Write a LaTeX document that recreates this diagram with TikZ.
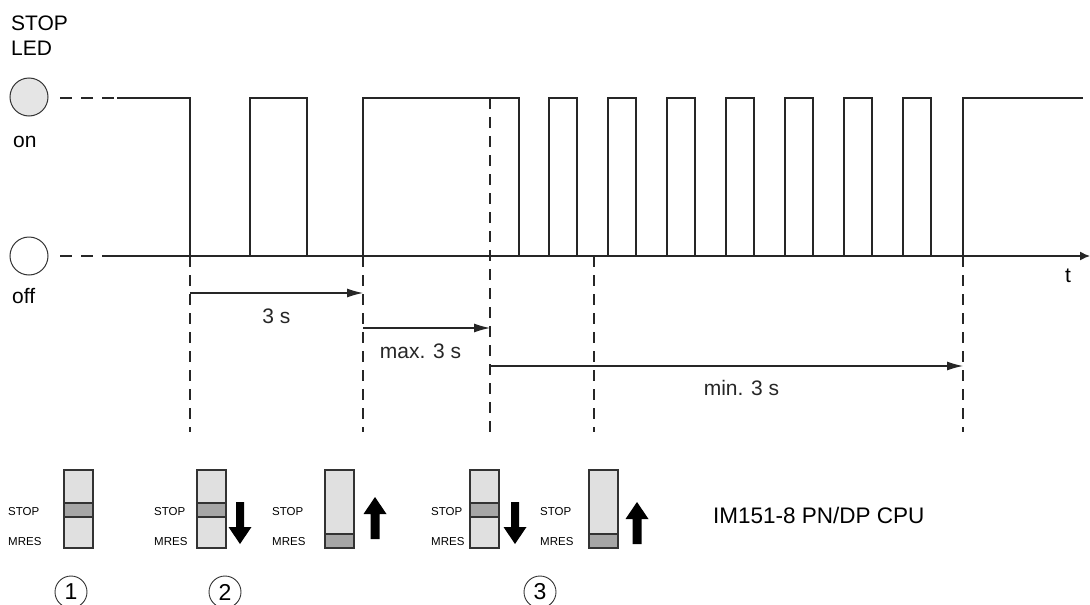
\documentclass[tikz,border=0pt]{standalone}
\usepackage{fontspec}
\setmainfont{Liberation Sans}
\usetikzlibrary{arrows.meta, positioning}

\begin{document}
\begin{tikzpicture}[x=1pt, y=-1pt,
  sig/.style={line width=1.4pt, black!85},
  guide/.style={line width=1.1pt, black!85, dash pattern=on 11pt off 8pt},
  lead/.style={line width=1.4pt, black!85, dash pattern=on 12pt off 9pt},
  span/.style={line width=1.1pt, black!85, -{Latex[length=16pt,width=9pt]}},
  lbl/.style={font=\fontsize{21}{21}\selectfont, inner sep=0pt},
  swtxt/.style={font=\fontsize{11.5}{11.5}\selectfont, inner sep=0pt, anchor=base west},
  swbox/.style={draw=black!80, fill=black!12, line width=1.1pt},
  swband/.style={draw=black!80, fill=black!35, line width=1.1pt},
  led/.style={circle, draw=black!80, line width=1pt, minimum size=38pt, inner sep=0pt},
  num/.style={circle, draw=black!80, line width=0.9pt, minimum size=32pt, inner sep=0pt,
              font=\fontsize{23}{23}\selectfont}]
  \useasboundingbox (0,0) rectangle (1090,605);
  % LED and levels
  \node[lbl, anchor=base west] (stoplbl) at (11,30) {STOP};
  \node[lbl, anchor=base west] (ledlbl) at (11,55) {LED};
  \node[led, fill=black!10] (ledon) at (29,97) {};
  \node[led, fill=white] (ledoff) at (29,256) {};
  \node[lbl, anchor=base west] (onlbl) at (13,147) {on};
  \node[lbl, anchor=base west] (offlbl) at (12,303) {off};
  \draw[lead] (60,98) -- (117,98);
  \draw[lead] (60,256) -- (102,256);
  % time axis
  \draw[sig, -{Latex[length=10pt,width=9pt]}] (102,256) -- (1090,256);
  \node[lbl, anchor=base west] (tlbl) at (1065,282) {t};
  % waveform
  \draw[sig] (117,98) -- (190,98) -- (190,256);
  \draw[sig] (250,256) |- (307,98) -- (307,256);
  \draw[sig] (363,256) |- (519,98) -- (519,256);
  \foreach \k in {0,...,6}
    \draw[sig] (549+59*\k,256) |- (577+59*\k,98) -- (577+59*\k,256);
  \draw[sig] (963,256) |- (1083,98);
  % time marks
  \coordinate (t0) at (190,256);
  \coordinate (t1) at (363,256);
  \coordinate (t2) at (490,98);
  \coordinate (t3) at (594,256);
  \coordinate (t4) at (963,256);
  \coordinate (bot) at (0,432);
  \foreach \m in {t0,t1,t2,t3,t4}
    \draw[guide] (\m) -- (\m |- bot);
  \coordinate (y1) at (0,293);
  \coordinate (y2) at (0,328);
  \coordinate (y3) at (0,366);
  \draw[span] (t0 |- y1) -- node[lbl, anchor=base, yshift=-30pt] (d1) {3 s} (t1 |- y1);
  \draw[span] (t1 |- y2) -- node[lbl, anchor=base, yshift=-30pt, xshift=-6pt] (d2) {max. 3 s} (t2 |- y2);
  \draw[span] (t2 |- y3) -- node[lbl, anchor=base, yshift=-29pt, xshift=15pt] (d3) {min. 3 s} (t4 |- y3);
  % mode switches
  \foreach \x/\b/\l in {64/503/8, 197/503/154, 325/534/272, 470/503/431, 589/534/540} {
    \draw[swbox] (\x,470) rectangle (\x+29,548);
    \draw[swband] (\x,\b) rectangle (\x+29,\b+14);
    \node[swtxt] at (\l,515) {STOP};
    \node[swtxt] at (\l,545) {MRES};
  }
  % push arrows
  \foreach \c in {240,515}
    \fill (\c-4,502) -- (\c+4,502) -- (\c+4,527) -- (\c+11.5,527) -- (\c,544)
          -- (\c-11.5,527) -- (\c-4,527) -- cycle;
  \foreach \c/\t in {375/497,637/502}
    \fill (\c,\t) -- (\c+11.5,\t+17) -- (\c+4.5,\t+17) -- (\c+4.5,\t+42)
          -- (\c-4.5,\t+42) -- (\c-4.5,\t+17) -- (\c-11.5,\t+17) -- cycle;
  \node[font=\fontsize{22.5}{22.5}\selectfont, inner sep=0pt, anchor=base west] (cpu) at (713,523) {IM151-8 PN/DP CPU};
  % steps
  \node[num] (s1) at (71,592) {1};
  \node[num] (s2) at (225,592) {2};
  \node[num] (s3) at (540,592) {3};
\end{tikzpicture}
\end{document}
